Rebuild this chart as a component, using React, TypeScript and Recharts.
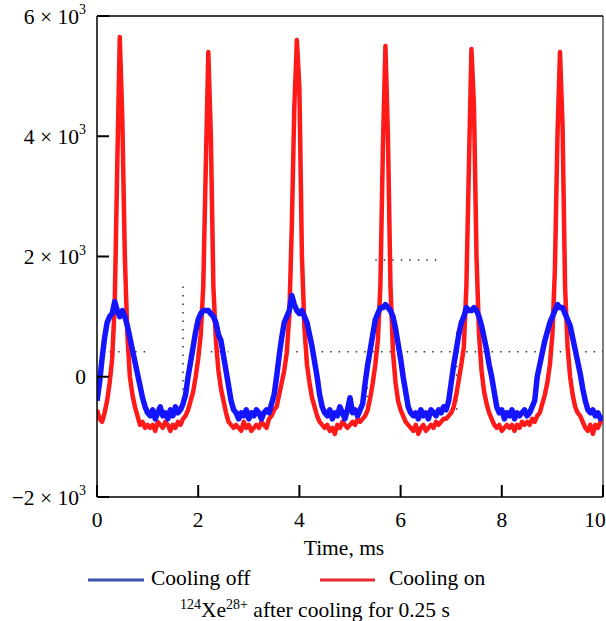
import { Line, LineChart, ReferenceLine, XAxis, YAxis } from "recharts"

// time axis, ms (0.05 ms sampling)
const timeMs = [
  0, 0.05, 0.1, 0.15, 0.2, 0.25, 0.3, 0.35, 0.4, 0.45, 0.5, 0.55, 0.6, 0.65, 0.7, 0.75, 0.8, 0.85, 0.9, 0.95,
  1, 1.05, 1.1, 1.15, 1.2, 1.25, 1.3, 1.35, 1.4, 1.45, 1.5, 1.55, 1.6, 1.65, 1.7, 1.75, 1.8, 1.85, 1.9, 1.95,
  2, 2.05, 2.1, 2.15, 2.2, 2.25, 2.3, 2.35, 2.4, 2.45, 2.5, 2.55, 2.6, 2.65, 2.7, 2.75, 2.8, 2.85, 2.9, 2.95,
  3, 3.05, 3.1, 3.15, 3.2, 3.25, 3.3, 3.35, 3.4, 3.45, 3.5, 3.55, 3.6, 3.65, 3.7, 3.75, 3.8, 3.85, 3.9, 3.95,
  4, 4.05, 4.1, 4.15, 4.2, 4.25, 4.3, 4.35, 4.4, 4.45, 4.5, 4.55, 4.6, 4.65, 4.7, 4.75, 4.8, 4.85, 4.9, 4.95,
  5, 5.05, 5.1, 5.15, 5.2, 5.25, 5.3, 5.35, 5.4, 5.45, 5.5, 5.55, 5.6, 5.65, 5.7, 5.75, 5.8, 5.85, 5.9, 5.95,
  6, 6.05, 6.1, 6.15, 6.2, 6.25, 6.3, 6.35, 6.4, 6.45, 6.5, 6.55, 6.6, 6.65, 6.7, 6.75, 6.8, 6.85, 6.9, 6.95,
  7, 7.05, 7.1, 7.15, 7.2, 7.25, 7.3, 7.35, 7.4, 7.45, 7.5, 7.55, 7.6, 7.65, 7.7, 7.75, 7.8, 7.85, 7.9, 7.95,
  8, 8.05, 8.1, 8.15, 8.2, 8.25, 8.3, 8.35, 8.4, 8.45, 8.5, 8.55, 8.6, 8.65, 8.7, 8.75, 8.8, 8.85, 8.9, 8.95,
  9, 9.05, 9.1, 9.15, 9.2, 9.25, 9.3, 9.35, 9.4, 9.45, 9.5, 9.55, 9.6, 9.65, 9.7, 9.75, 9.8, 9.85, 9.9, 9.95,
  10,
]

// blue trace
const coolingOff = [
  -400, -100, 300, 650, 900, 1000, 1050, 1250, 1100, 1000, 1100, 1000, 850, 650, 450, 250, 50, -150, -350, -500,
  -600, -650, -550, -700, -600, -500, -650, -600, -700, -550, -650, -500, -600, -550, -450, -300, 0, 250, 500, 750,
  950, 1050, 1100, 1100, 1100, 1050, 1000, 900, 700, 600, 350, 100, -150, -400, -550, -600, -700, -600, -650, -550,
  -700, -600, -650, -550, -600, -700, -600, -550, -600, -450, -300, 0, 350, 650, 900, 1000, 1100, 1350, 1200, 1100,
  1050, 1100, 1000, 900, 700, 500, 250, 0, -300, -500, -600, -650, -550, -700, -600, -650, -500, -600, -700, -550,
  -350, -600, -550, -650, -550, -450, -100, 200, 450, 700, 950, 1050, 1150, 1150, 1200, 1150, 1100, 1000, 800, 550,
  300, 0, -250, -500, -600, -650, -600, -700, -550, -650, -600, -700, -550, -600, -650, -550, -600, -500, -550, -400,
  -100, 200, 450, 700, 900, 1000, 1150, 1100, 1100, 1150, 1100, 1000, 850, 650, 450, 200, 0, -250, -500, -600,
  -550, -700, -600, -650, -550, -700, -600, -650, -600, -550, -650, -600, -500, -400, 0, 200, 400, 600, 750, 900,
  1000, 1100, 1200, 1150, 1150, 1050, 950, 850, 650, 450, 250, 50, -200, -400, -550, -600, -550, -650, -600, -700,
  -650,
]

// red trace
const coolingOn = [
  -550, -700, -750, -600, -400, -100, 300, 1200, 3500, 5650, 4300, 2000, 700, 0, -300, -500, -650, -800, -750, -850,
  -800, -850, -800, -900, -750, -800, -850, -750, -800, -900, -800, -850, -750, -800, -700, -650, -550, -400, -250, 0,
  300, 700, 1500, 3500, 5400, 4000, 1500, 600, 100, -200, -400, -600, -750, -800, -850, -800, -850, -900, -750, -850,
  -800, -900, -850, -800, -850, -750, -800, -850, -700, -650, -550, -500, -300, -100, 100, 400, 1000, 2500, 4500, 5600,
  4800, 2000, 800, 200, -100, -350, -500, -650, -750, -800, -850, -800, -900, -850, -950, -800, -850, -750, -800, -850,
  -800, -750, -800, -700, -750, -700, -650, -550, -350, -100, 200, 600, 1500, 3800, 5500, 4000, 1500, 400, -100, -400,
  -550, -650, -750, -800, -850, -900, -800, -950, -850, -800, -900, -850, -800, -850, -750, -800, -750, -700, -700, -650,
  -600, -500, -300, -50, 200, 500, 1500, 3500, 5450, 4500, 2000, 700, 100, -250, -450, -600, -700, -800, -850, -800,
  -900, -850, -800, -850, -800, -900, -800, -850, -750, -800, -750, -800, -700, -750, -650, -600, -450, -300, -100, 200,
  700, 1800, 4000, 5400, 4200, 1500, 500, 0, -300, -500, -600, -650, -750, -850, -900, -800, -950, -800, -850, -750,
  -700,
]

const xTicks = [0, 2, 4, 6, 8, 10]
const yTicks = [-2000, 0, 2000, 4000, 6000]

// faint dotted marks that show up in the scanned figure
const dottedMarks = [
  { x1: 0.25, y1: 416, x2: 0.95, y2: 416 },
  { x1: 2.25, y1: 416, x2: 2.6, y2: 416 },
  { x1: 3.6, y1: 416, x2: 10, y2: 416 },
  { x1: 5.5, y1: 1940, x2: 6.8, y2: 1940 },
  { x1: 1.7, y1: 1500, x2: 1.7, y2: -550 },
  { x1: 5.34, y1: 250, x2: 5.34, y2: -650 },
  { x1: 7.11, y1: 750, x2: 7.11, y2: -650 },
]

const serif = "'Liberation Serif', 'Times New Roman', serif"
const fs = 21.5

const data = timeMs.map((t, i) => ({ t, off: coolingOff[i], on: coolingOn[i] }))

// ticks point inward (tickSize -12), so the label has to step back past the tick
function YTick(props: any) {
  const { x, y, payload } = props
  const v = payload.value
  const m = v / 1000
  return (
    <text x={x - 23} y={y + 7.5} textAnchor="end" fontSize={fs} fontFamily={serif} fill="#000">
      {v === 0 ? (
        "0"
      ) : (
        <>
          <tspan>{`${m < 0 ? "−" : ""}${Math.abs(m)} × 10`}</tspan>
          <tspan dy={-9.5} fontSize={14}>3</tspan>
        </>
      )}
    </text>
  )
}

function XTick(props: any) {
  const { x, y, payload } = props
  return (
    <text x={Math.min(x, 595)} y={y + 42} textAnchor="middle" fontSize={fs} fontFamily={serif} fill="#000">
      {payload.value}
    </text>
  )
}

export default function App() {
  return (
    <div style={{ position: "absolute", left: 0, top: 0, width: 606, height: 621, background: "#fff" }}>
      <LineChart width={606} height={621} data={data} margin={{ top: 16, right: 3, bottom: 60, left: 0 }}>
        <XAxis
          dataKey="t"
          type="number"
          domain={[0, 10]}
          ticks={xTicks}
          height={64}
          tickSize={-12}
          tickMargin={0}
          tickLine={{ stroke: "#000", strokeWidth: 2 }}
          tick={<XTick />}
          axisLine={{ stroke: "#000", strokeWidth: 1.5 }}
          allowDataOverflow
          label={{ value: "Time, ms", position: "insideBottom", offset: 6, dx: -6, fontSize: fs, fontFamily: serif, fill: "#000" }}
        />
        <YAxis
          type="number"
          domain={[-2000, 6000]}
          ticks={yTicks}
          width={97}
          tickSize={-12}
          tickMargin={0}
          tickLine={{ stroke: "#000", strokeWidth: 2 }}
          tick={<YTick />}
          axisLine={{ stroke: "#000", strokeWidth: 1.5 }}
          allowDataOverflow
        />
        <ReferenceLine y={6000} stroke="#000" strokeWidth={1.5} />
        <ReferenceLine x={10} stroke="#000" strokeWidth={1} />
        {dottedMarks.map((d, i) => (
          <ReferenceLine
            key={i}
            segment={[
              { x: d.x1, y: d.y1 },
              { x: d.x2, y: d.y2 },
            ]}
            stroke="#333"
            strokeWidth={1.5}
            strokeDasharray="1.5 7"
          />
        ))}
        <Line
          type="linear"
          dataKey="on"
          stroke="#ff1a1a"
          strokeWidth={4.5}
          strokeLinejoin="round"
          dot={false}
          isAnimationActive={false}
        />
        <Line
          type="linear"
          dataKey="off"
          stroke="#1414ff"
          strokeWidth={5.5}
          strokeLinejoin="round"
          dot={false}
          isAnimationActive={false}
        />
      </LineChart>
      <svg
        width={606}
        height={621}
        style={{ position: "absolute", left: 0, top: 0, pointerEvents: "none" }}
        fontFamily={serif}
        fontSize={fs}
      >
        <line x1={88} x2={144} y1={580} y2={580} stroke="#3a55ad" strokeWidth={3} />
        <text x={151} y={585} fill="#000">Cooling off</text>
        <line x1={320} x2={375} y1={580} y2={580} stroke="#e8262f" strokeWidth={3} />
        <text x={389} y={585} fill="#000">Cooling on</text>
        <text x={180} y={617} fill="#000">
          <tspan fontSize={14} dy={-8}>124</tspan>
          <tspan dy={8}>Xe</tspan>
          <tspan fontSize={14} dy={-8}>28+</tspan>
          <tspan dy={8}> after cooling for 0.25 s</tspan>
        </text>
      </svg>
    </div>
  )
}
